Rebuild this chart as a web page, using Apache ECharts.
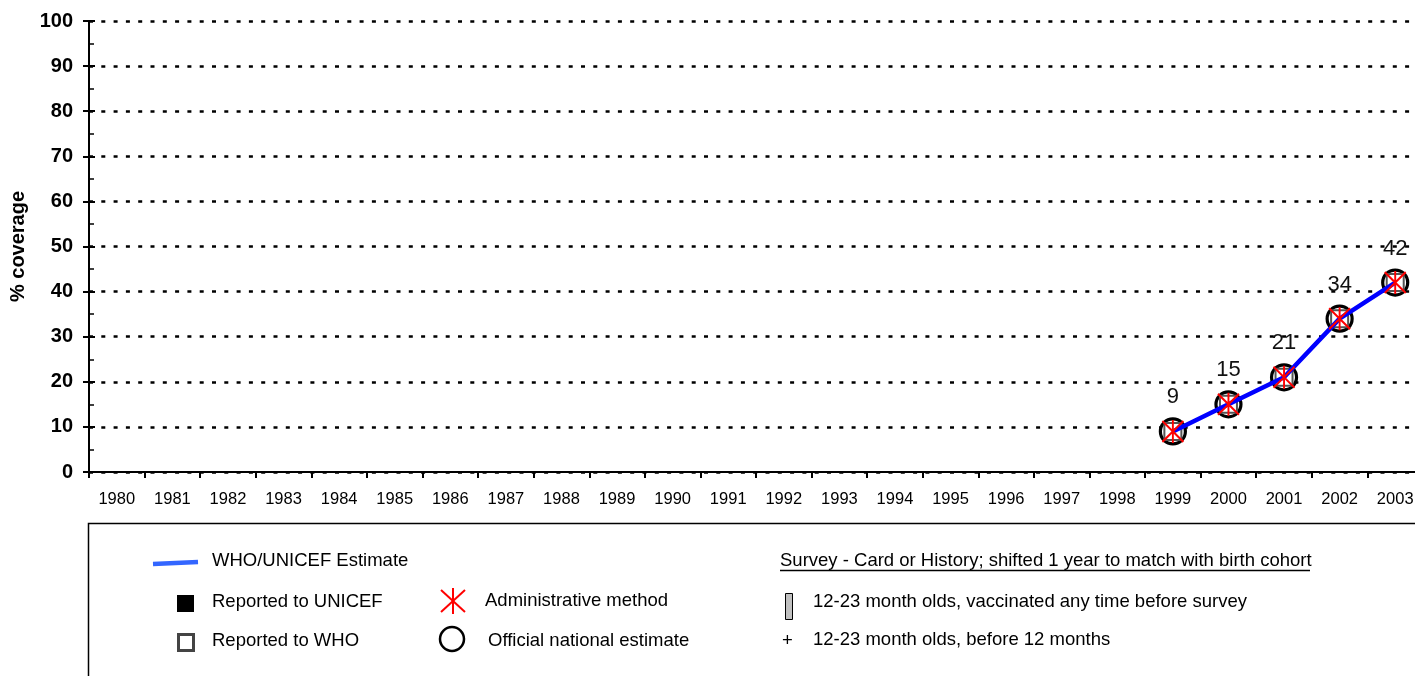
<!DOCTYPE html>
<html>
<head>
<meta charset="utf-8">
<script src="https://cdn.jsdelivr.net/npm/echarts@6/dist/echarts.min.js"></script>
<style>
html,body{margin:0;padding:0;background:#fff;overflow:hidden;width:1415px;height:676px;}
#chart{width:1423px;height:676px;}
</style>
</head>
<body>
<div id="chart"></div>
<script>
// ---- data ----
const years = ['1980','1981','1982','1983','1984','1985','1986','1987','1988','1989','1990','1991','1992','1993','1994','1995','1996','1997','1998','1999','2000','2001','2002','2003'];
const wuenicEstimate   = [null,null,null,null,null,null,null,null,null,null,null,null,null,null,null,null,null,null,null,9,15,21,34,42];
const officialEstimate = [null,null,null,null,null,null,null,null,null,null,null,null,null,null,null,null,null,null,null,9,15,21,34,42];
const adminMethod      = [null,null,null,null,null,null,null,null,null,null,null,null,null,null,null,null,null,null,null,9,15,21,34,42];
const reportedWHO      = [null,null,null,null,null,null,null,null,null,null,null,null,null,null,null,null,null,null,null,9,15,21,34,42];
const yTicks = [0,10,20,30,40,50,60,70,80,90,100];

const FONT = 'Arial, "Liberation Sans", sans-serif';
const chart = echarts.init(document.getElementById('chart'), null, {renderer:'canvas', width:1423, height:676});

const asteriskPath = 'path://M10,0L10,22M0,1L20,21M0,21L20,1';

const legendText = (x, y, text, extra) => Object.assign({
  type:'text', x:x, y:y,
  style:{text:text, font:'18.5px ' + FONT, fill:'#000', textVerticalAlign:'middle', verticalAlign:'middle'}
}, extra || {});

const option = {
  backgroundColor:'#fff',
  animation:false,
  grid:{left:89, right:0, top:21, height:451, containLabel:false},
  xAxis:{
    type:'category', data:years, boundaryGap:true,
    axisLine:{lineStyle:{color:'#000', width:2}},
    axisTick:{show:true, alignWithLabel:false, length:6, lineStyle:{color:'#000', width:2}},
    axisLabel:{interval:0, color:'#000', fontSize:16.5, fontFamily:FONT, margin:19}
  },
  yAxis:[{
    type:'value', min:yTicks[0], max:yTicks[yTicks.length-1], interval:10,
    name:'% coverage', nameLocation:'middle', nameGap:58, nameRotate:90,
    nameTextStyle:{color:'#000', fontSize:20, fontWeight:'bold', fontFamily:FONT},
    axisLine:{show:true, lineStyle:{color:'#000', width:2}},
    axisTick:{show:true, length:6, lineStyle:{color:'#000', width:2}},
    axisLabel:{color:'#000', fontSize:20, fontWeight:'bold', fontFamily:FONT, margin:16},
    splitLine:{show:true, lineStyle:{color:'#000', width:2.7, type:[4,8.3]}}
  },{
    type:'value', min:0, max:100, interval:10, position:'left', offset:0,
    axisLine:{show:false},
    axisTick:{show:true, inside:true, length:6, lineStyle:{color:'#000', width:2}},
    minorTick:{show:true, splitNumber:2, length:5, lineStyle:{color:'#000', width:1.5}},
    axisLabel:{show:false},
    splitLine:{show:false}
  }],
  series:[
    {
      name:'Official national estimate', type:'scatter', data:officialEstimate, z:2,
      symbol:'circle', symbolSize:25,
      itemStyle:{color:'#fff', borderColor:'#000', borderWidth:3.2, opacity:1},
      label:{show:true, position:'top', distance:9, color:'#111', fontSize:22, fontFamily:FONT,
             formatter:p => p.value}
    },
    {
      name:'Reported to WHO', type:'scatter', data:reportedWHO, z:3,
      symbol:'rect', symbolSize:17,
      itemStyle:{color:'#fff', borderColor:'#555', borderWidth:2, opacity:1}
    },
    {
      name:'WHO/UNICEF Estimate', type:'line', data:wuenicEstimate, z:4,
      showSymbol:false, symbol:'none', connectNulls:false,
      lineStyle:{color:'#0000ff', width:4.5}
    },
    {
      name:'Administrative method', type:'scatter', data:adminMethod, z:5,
      symbol:asteriskPath, symbolSize:[21,23],
      itemStyle:{color:'rgba(0,0,0,0)', borderColor:'#ff0000', borderWidth:2, opacity:1}
    }
  ],
  graphic:[
    {type:'rect', shape:{x:88.5, y:523.5, width:1400, height:200}, style:{fill:'none', stroke:'#000', lineWidth:1.5}, silent:true},
    {type:'line', shape:{x1:153, y1:564, x2:198, y2:562}, style:{stroke:'#3366ff', lineWidth:4.5}},
    legendText(212, 561, 'WHO/UNICEF Estimate'),
    {type:'rect', shape:{x:177, y:595, width:17, height:17}, style:{fill:'#000'}},
    legendText(212, 602, 'Reported to UNICEF'),
    {type:'rect', shape:{x:178.5, y:634.5, width:15, height:16}, style:{fill:'#fff', stroke:'#444', lineWidth:3}},
    legendText(212, 641, 'Reported to WHO'),
    {type:'line', shape:{x1:453, y1:588, x2:453, y2:614}, style:{stroke:'#ff0000', lineWidth:2}},
    {type:'line', shape:{x1:441, y1:590, x2:465, y2:612}, style:{stroke:'#ff0000', lineWidth:2}},
    {type:'line', shape:{x1:441, y1:612, x2:465, y2:590}, style:{stroke:'#ff0000', lineWidth:2}},
    legendText(485, 601, 'Administrative method'),
    {type:'circle', shape:{cx:452, cy:639, r:12}, style:{fill:'#fff', stroke:'#000', lineWidth:2.5}},
    legendText(488, 641, 'Official national estimate'),
    legendText(780, 561, 'Survey - Card or History; shifted 1 year to match with birth cohort'),
    {type:'line', shape:{x1:780, y1:570.5, x2:1310, y2:570.5}, style:{stroke:'#000', lineWidth:1.5}},
    {type:'rect', shape:{x:785.5, y:593.5, width:7, height:26}, style:{fill:'#c0c0c0', stroke:'#000', lineWidth:1}},
    legendText(813, 602, '12-23 month olds, vaccinated any time before survey'),
    legendText(782, 641, '+'),
    legendText(813, 640, '12-23 month olds, before 12 months')
  ]
};
chart.setOption(option);
</script>
</body>
</html>
